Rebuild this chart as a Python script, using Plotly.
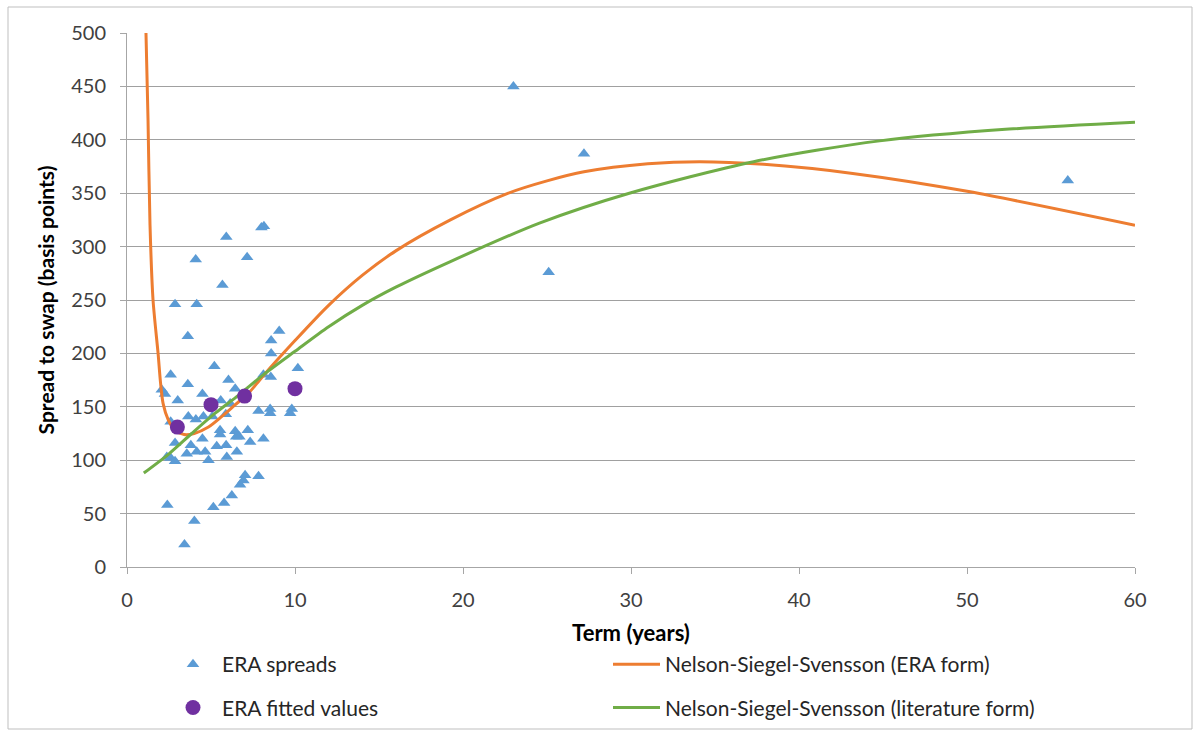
import plotly.graph_objects as go

# ERA spreads (term in years, spread in bp)
spread_term = [2.07, 2.26, 2.37, 2.4, 2.6, 2.6, 2.6, 2.86, 2.86, 2.86, 3.02, 3.42, 3.56, 3.62, 3.62,
               3.65, 3.8, 4.01, 4.1, 4.09, 4.15, 4.15, 4.49, 4.49, 4.55, 4.65, 4.85, 5.08, 5.14, 5.2,
               5.34, 5.54, 5.54, 5.58, 5.68, 5.78, 5.88, 5.9, 5.91, 5.94, 6.04, 6.14, 6.24, 6.44, 6.44,
               6.5, 6.54, 6.69, 6.73, 6.93, 7.03, 7.15, 7.19, 7.33, 7.83, 7.83, 8.0, 8.15, 8.12, 8.12,
               8.52, 8.52, 8.56, 8.58, 8.58, 9.06, 9.71, 9.81, 10.17, 23.0, 25.1, 27.2, 56.0]
spread_bp = [166, 162, 103, 58, 180, 136, 102, 246, 116, 99, 156, 21, 106, 216, 171,
             141, 114, 43, 138, 288, 246, 108, 162, 120, 141, 108, 100, 141, 56, 188,
             113, 128, 124, 156, 264, 60, 143, 114, 309, 103, 175, 153, 67, 167, 127,
             122, 108, 122, 77, 81, 86, 290, 128, 117, 146, 85, 318, 319, 180, 120,
             148, 144, 178, 212, 200, 221, 144, 148, 186, 450, 276, 387, 362]

# ERA fitted values
fit_term = [3, 5, 7, 10]
fit_bp = [131, 152, 160, 167]

# Nelson-Siegel-Svensson (ERA form)
era_term = [1.13, 1.25, 1.37, 1.55, 1.85, 2.0, 2.15, 2.45, 2.85, 3.4, 4.0, 4.85, 5.65, 6.45,
            7.25, 8.05, 10, 12, 14, 16, 19.25, 22.7, 25, 27.2, 31, 34.1, 37.9, 43.2, 50.1, 60]
era_bp = [500, 420, 320, 250, 200, 172, 153, 138, 128, 124, 125, 131, 141, 152,
          163, 178, 212, 245, 273, 296, 325, 350, 361.5, 370, 377.5, 379.5, 377, 368.5, 351.5, 320]

# Nelson-Siegel-Svensson (literature form)
lit_term = [1, 2.5, 3.85, 5.25, 6.65, 8.2, 10, 12, 14, 16, 19.25, 24.55, 29.9, 37.3, 44.8, 52.5, 60]
lit_bp = [88, 106, 125, 144, 161, 181, 202, 225, 245, 262, 286, 322, 350, 379.5, 399, 410, 416.5]

x_ticks = [0, 10, 20, 30, 40, 50, 60]
y_ticks = [0, 50, 100, 150, 200, 250, 300, 350, 400, 450, 500]

FONT = "Lato"
fig = go.Figure()

fig.add_trace(go.Scatter(x=spread_term, y=spread_bp, mode="markers", name="ERA spreads",
                         marker=dict(symbol="triangle-up", size=11, color="#5b9bd5"),
                         legend="legend", legendgroup="a"))
fig.add_trace(go.Scatter(x=era_term, y=era_bp, mode="lines", name="Nelson-Siegel-Svensson (ERA form)",
                         line=dict(color="#ed7d31", width=3, shape="spline", smoothing=0.8),
                         legend="legend2", legendgroup="c"))
fig.add_trace(go.Scatter(x=lit_term, y=lit_bp, mode="lines", name="Nelson-Siegel-Svensson (literature form)",
                         line=dict(color="#70ad47", width=3, shape="spline", smoothing=0.8),
                         legend="legend2", legendgroup="d"))
fig.add_trace(go.Scatter(x=fit_term, y=fit_bp, mode="markers", name="ERA fitted values",
                         marker=dict(symbol="circle", size=15, color="#7030a0"),
                         legend="legend", legendgroup="b"))

W, H = 1200, 735
L, R, T, B = 127, 1135, 33, 567
pw, ph = R - L, B - T

def px2x(px):
    return (px - L) / pw

def py2y(py):
    return (B - py) / ph

axis_common = dict(showline=True, linecolor="#a6a6a6", linewidth=1, ticks="outside", ticklen=6,
                   tickcolor="#a6a6a6", tickfont=dict(family=FONT, size=20, color="#404040"),
                   zeroline=False, automargin=False)

fig.update_layout(
    width=W, height=H,
    margin=dict(l=L, r=W - R, t=T, b=H - B, autoexpand=False),
    paper_bgcolor="white", plot_bgcolor="white",
    font=dict(family=FONT, size=21, color="#262626"),
    xaxis=dict(range=[0, 60], tickvals=x_ticks, showgrid=False, ticklabelstandoff=9,
               title=dict(text="<b>Term (years)</b>", font=dict(family=FONT, size=22, color="#000000"),
                          standoff=15),
               **axis_common),
    yaxis=dict(range=[0, 500], tickvals=y_ticks, showgrid=True, gridcolor="#a0a0a0", gridwidth=1,
               ticklabelstandoff=10,
               title=dict(text="<b>Spread to swap (basis points)</b>",
                          font=dict(family=FONT, size=21, color="#000000"), standoff=10),
               **axis_common),
    legend=dict(x=px2x(164), y=py2y(644), xanchor="left", yanchor="top", orientation="v",
                itemwidth=48, tracegroupgap=13, font=dict(family=FONT, size=21, color="#262626"),
                bgcolor="rgba(0,0,0,0)"),
    legend2=dict(x=px2x(608), y=py2y(644), xanchor="left", yanchor="top", orientation="v",
                 itemwidth=47, tracegroupgap=13, font=dict(family=FONT, size=21, color="#262626"),
                 bgcolor="rgba(0,0,0,0)"),
    shapes=[dict(type="rect", xref="paper", yref="paper",
                 x0=px2x(8), x1=px2x(1192), y0=py2y(729), y1=py2y(7),
                 line=dict(color="#bfbfbf", width=1), fillcolor="rgba(0,0,0,0)", layer="below")],
)

fig.write_html("out.html")
